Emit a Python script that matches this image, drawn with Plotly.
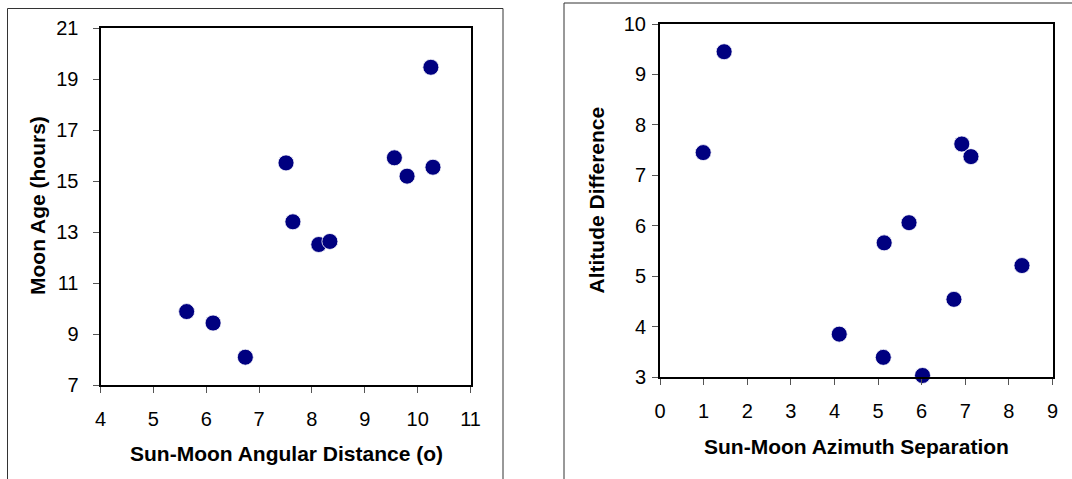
import plotly.graph_objects as go

# Left chart data
ang_dist = [5.63, 6.13, 6.74, 7.51, 7.64, 8.13, 8.34, 9.56, 9.80, 10.25, 10.29]
moon_age = [9.88, 9.43, 8.09, 15.71, 13.40, 12.51, 12.63, 15.91, 15.19, 19.46, 15.54]

# Right chart data
az_sep = [0.99, 1.47, 4.11, 5.12, 5.14, 5.71, 6.02, 6.74, 6.92, 7.13, 8.30]
alt_diff = [7.45, 9.45, 3.85, 3.39, 5.66, 6.06, 3.03, 4.54, 7.62, 7.37, 5.21]

left_xticks = [4, 5, 6, 7, 8, 9, 10, 11]
left_yticks = [7, 9, 11, 13, 15, 17, 19, 21]
right_xticks = [0, 1, 2, 3, 4, 5, 6, 7, 8, 9]
right_yticks = [3, 4, 5, 6, 7, 8, 9, 10]

W, H = 1072, 479
FONT = "Liberation Sans, Arial, sans-serif"
NAVY = "#000080"

def px(x):
    return x / W

def py(y):
    return 1 - y / H

fig = go.Figure()
marker = dict(color=NAVY, size=16, line=dict(color="white", width=0.8))
fig.add_trace(go.Scatter(x=ang_dist, y=moon_age, mode="markers", marker=marker,
                         xaxis="x", yaxis="y", cliponaxis=False, showlegend=False))
fig.add_trace(go.Scatter(x=az_sep, y=alt_diff, mode="markers", marker=marker,
                         xaxis="x2", yaxis="y2", cliponaxis=False, showlegend=False))

axis_common = dict(showline=True, linecolor="black", linewidth=2, mirror=True,
                   showgrid=False, zeroline=False, ticks="outside", ticklen=6,
                   tickcolor="#555555", tickwidth=1, automargin=False,
                   tickfont=dict(family=FONT, size=20, color="black"))

fig.update_layout(
    width=W, height=H,
    margin=dict(l=0, r=0, t=0, b=0),
    paper_bgcolor="white", plot_bgcolor="white",
    xaxis=dict(domain=[px(100.5), px(470.5)], range=[4, 11], tickvals=left_xticks,
               anchor="y", ticklabelstandoff=9, **axis_common),
    yaxis=dict(domain=[py(385), py(28)], range=[7, 21], tickvals=left_yticks,
               anchor="x", ticklabelstandoff=10, **axis_common),
    xaxis2=dict(domain=[px(660), px(1052.5)], range=[0, 9], tickvals=right_xticks,
                anchor="y2", ticklabelstandoff=9, **axis_common),
    yaxis2=dict(domain=[py(377), py(24)], range=[3, 10], tickvals=right_yticks,
                anchor="x2", ticklabelstandoff=2, **axis_common),
)

# Outer chart-area borders
fig.add_shape(type="rect", xref="paper", yref="paper",
              x0=px(7.5), x1=px(503), y0=-0.2, y1=py(8.5),
              line=dict(color="#333333", width=1), layer="below")
fig.add_shape(type="rect", xref="paper", yref="paper",
              x0=px(564), x1=1.2, y0=-0.2, y1=py(3),
              line=dict(color="#333333", width=1), layer="below")

title_font = dict(family=FONT, size=21, color="black")
def ann(text, x, y, angle=0):
    fig.add_annotation(text="<b>%s</b>" % text, x=px(x), y=py(y), xref="paper", yref="paper",
                       showarrow=False, textangle=angle, font=title_font,
                       xanchor="center", yanchor="middle")

ann("Sun-Moon Angular Distance (o)", 286, 453)
ann("Moon Age (hours)", 37, 206, -90)
ann("Sun-Moon Azimuth Separation", 856, 446)
ann("Altitude Difference", 595.5, 200, -90)

fig.write_html("out.html", config={"displayModeBar": False},
               post_script="document.body.style.margin='0';document.body.style.overflow='hidden';")
